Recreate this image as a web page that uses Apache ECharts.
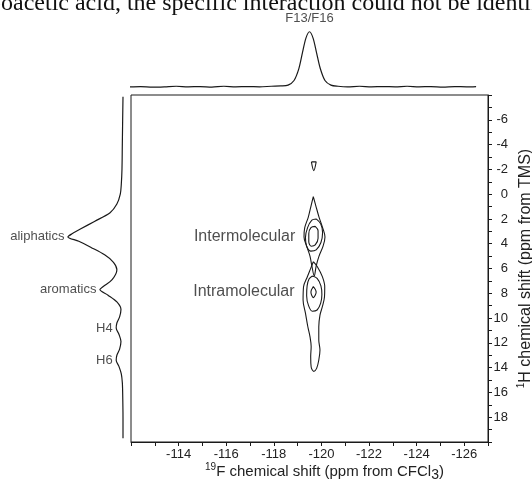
<!DOCTYPE html>
<html><head><meta charset="utf-8">
<script src="https://cdn.jsdelivr.net/npm/echarts@6/dist/echarts.min.js"></script>
<style>html,body{margin:0;padding:0;background:#fff}#c{width:532px;height:486px}</style>
</head><body><div id="c"></div>
<script>
// ---- axis ranges / tick labels ----
const fRange = [-127, -112];            // 19F ppm (shown inverted)
const hRange = [-8, 20];                // 1H ppm (shown inverted)
const fLabelTicks = [-114, -116, -118, -120, -122, -124, -126];
const hLabelTicks = [-6, -4, -2, 0, 2, 4, 6, 8, 10, 12, 14, 16, 18];

// ---- top projection (19F) ----
const fProjPpm = [-111.95,-112.4,-112.9,-113.4,-113.9,-114.4,-114.9,-115.4,-115.9,-116.4,-116.9,-117.4,-117.9,-118.3,-118.6,-118.85,-119.05,-119.2,-119.35,-119.5,-119.65,-119.8,-119.95,-120.15,-120.4,-120.7,-121.1,-121.6,-122.1,-122.6,-123.1,-123.6,-124.1,-124.6,-125.1,-125.6,-126.1,-126.5];
const fProjInt = [0.02,0.025,0.015,0.02,0.03,0.02,0.025,0.015,0.03,0.02,0.025,0.02,0.03,0.035,0.05,0.13,0.33,0.6,0.86,0.97,0.86,0.6,0.34,0.13,0.05,0.03,0.02,0.03,0.02,0.025,0.02,0.03,0.02,0.025,0.015,0.025,0.02,0.025];
const fPeakLabel = 'F13/F16';
const fPeakPpm = -119.5;
const fPeakInt = 0.97;

// ---- left projection (1H) ----
const hProjPpm = [-7.85,-6,-4,-2,-0.8,0,0.8,1.5,2.2,2.8,3.2,3.45,3.8,4.3,4.9,5.5,6.1,6.9,7.45,7.7,8.15,8.7,9.3,9.9,10.4,10.8,11.3,11.9,12.5,13.0,13.4,13.9,14.5,15.2,16,18,19.7];
const hProjInt = [0,0.005,0.01,0.015,0.025,0.04,0.09,0.19,0.42,0.62,0.75,0.81,0.65,0.47,0.27,0.14,0.09,0.16,0.29,0.34,0.22,0.09,0.03,0.05,0.09,0.1,0.06,0.03,0.05,0.09,0.1,0.06,0.025,0.01,0.005,0,0];
const hPeakNames = ['aliphatics', 'aromatics', 'H4', 'H6'];
const hPeakPpm = [3.45, 7.7, 10.8, 13.4];
const hPeakInt = [0.81, 0.34, 0.1, 0.1];

// ---- 2D contours: [19F ppm, 1H ppm] ----
const contourSmall = [[-119.58,-2.6],[-119.78,-2.6],[-119.68,-1.9],[-119.58,-2.6]];
const interOuter = [[-119.66,0.2],[-119.76,0.9],[-119.9,1.85],[-120.05,2.7],[-120.15,3.45],[-120.07,4.2],[-119.9,5.0],[-119.78,5.8],[-119.7,6.6],[-119.6,5.8],[-119.52,5.0],[-119.38,4.2],[-119.27,3.45],[-119.3,2.7],[-119.45,1.85],[-119.57,0.9],[-119.66,0.2]];
const interMiddle = [[-119.78,2.0],[-119.97,2.4],[-120.05,3.1],[-119.98,3.9],[-119.78,4.5],[-119.56,4.6],[-119.38,4.2],[-119.33,3.5],[-119.42,2.7],[-119.6,2.1],[-119.78,2.0]];
const interInner = [[-119.74,2.6],[-119.86,2.95],[-119.86,3.55],[-119.74,4.1],[-119.58,4.2],[-119.47,3.85],[-119.47,3.2],[-119.56,2.7],[-119.74,2.6]];
const intraOuter = [[-119.66,5.45],[-119.83,5.86],[-120.04,6.66],[-120.14,7.47],[-120.13,8.28],[-120.04,9.08],[-119.94,9.76],[-119.89,10.7],[-119.89,11.77],[-119.94,12.58],[-119.89,13.39],[-119.8,14.06],[-119.68,14.3],[-119.57,13.95],[-119.55,13.1],[-119.57,12.3],[-119.52,11.5],[-119.43,10.7],[-119.33,9.6],[-119.23,8.55],[-119.25,7.47],[-119.41,6.66],[-119.55,5.99],[-119.66,5.45]];
const intraMiddle = [[-119.62,6.6],[-119.82,6.8],[-119.98,7.4],[-120.02,8.1],[-119.97,8.8],[-119.82,9.35],[-119.62,9.45],[-119.46,9.0],[-119.38,8.2],[-119.4,7.4],[-119.48,6.85],[-119.62,6.6]];
const intraInner = [[-119.66,7.45],[-119.78,7.9],[-119.66,8.35],[-119.56,7.9],[-119.66,7.45]];
const regionNames = ['Intermolecular', 'Intramolecular'];
const regionAnchor = [[-119.26, 3.4], [-119.23, 7.9]];

const docLine = 'boacetic acid, the specific interaction could not be identified';

const FONT = '"Liberation Sans", Arial, sans-serif';
const ink = '#1a1a1a';
const txt = '#222';

const chart = echarts.init(document.getElementById('c'));
const zip = (a, b) => a.map((v, i) => [v, b[i]]);
const contours = [contourSmall, interOuter, interMiddle, interInner, intraOuter, intraMiddle, intraInner];

const series = [];
contours.forEach(c => series.push({
  type: 'line', xAxisIndex: 0, yAxisIndex: 0, data: c, smooth: 0.35,
  showSymbol: false, symbol: 'none', lineStyle: { color: ink, width: 1.1 }, silent: true
}));
series.push({
  type: 'line', xAxisIndex: 1, yAxisIndex: 1, data: zip(fProjPpm, fProjInt), smooth: 0.3,
  showSymbol: false, symbol: 'none', lineStyle: { color: ink, width: 1.2 }
});
series.push({
  type: 'line', xAxisIndex: 2, yAxisIndex: 2, data: zip(hProjInt, hProjPpm), smooth: 0.3,
  showSymbol: false, symbol: 'none', lineStyle: { color: ink, width: 1.2 }
});
series.push({
  type: 'scatter', xAxisIndex: 2, yAxisIndex: 2, data: zip(hPeakInt, hPeakPpm), symbolSize: 1,
  itemStyle: { color: 'rgba(0,0,0,0)' },
  label: { show: true, position: 'left', distance: 3, color: txt, fontFamily: FONT, fontSize: 13,
    formatter: p => hPeakNames[p.dataIndex] }
});
series.push({
  type: 'scatter', xAxisIndex: 0, yAxisIndex: 0, data: regionAnchor, symbolSize: 1,
  itemStyle: { color: 'rgba(0,0,0,0)' },
  label: { show: true, position: 'left', distance: 8, color: txt, fontFamily: FONT, fontSize: 16,
    formatter: p => regionNames[p.dataIndex] }
});
series.push({
  type: 'scatter', xAxisIndex: 1, yAxisIndex: 1, data: [[fPeakPpm, fPeakInt]], symbolSize: 1,
  itemStyle: { color: 'rgba(0,0,0,0)' },
  label: { show: true, position: 'top', distance: 6, color: txt, fontFamily: FONT, fontSize: 13,
    formatter: fPeakLabel }
});

const option = {
  animation: false,
  backgroundColor: '#fff',
  textStyle: { fontFamily: FONT },
  grid: [
    { left: 131, top: 95, width: 357, height: 347, show: true, borderColor: ink, borderWidth: 1, outerBoundsMode: 'none', containLabel: false },
    { left: 131, top: 30, width: 357, height: 58, outerBoundsMode: 'none', containLabel: false },
    { left: 55, top: 95, width: 68, height: 347, outerBoundsMode: 'none', containLabel: false }
  ],
  xAxis: [
    { gridIndex: 0, type: 'value', min: fRange[0], max: fRange[1], inverse: true, interval: 1,
      axisLine: { show: true, onZero: false, lineStyle: { color: ink, width: 1 } },
      axisTick: { show: true, length: 4, lineStyle: { color: ink } },
      axisLabel: { color: txt, fontSize: 13, margin: 6, fontFamily: FONT,
        formatter: v => fLabelTicks.includes(v) ? String(v) : '' },
      splitLine: { show: false },
      name: '{sup|19}F chemical shift (ppm from CFCl{sub|3})',
      nameLocation: 'middle', nameGap: 20, nameMoveOverlap: false,
      nameTextStyle: { color: txt, fontSize: 15, fontFamily: FONT, lineHeight: 20, padding: [0, 0, 0, 30],
        rich: { sup: { fontSize: 10, lineHeight: 12, verticalAlign: 'top', color: txt, fontFamily: FONT },
                sub: { fontSize: 14, lineHeight: 14, verticalAlign: 'bottom', color: txt, fontFamily: FONT } } } },
    { gridIndex: 1, type: 'value', min: fRange[0], max: fRange[1], inverse: true, show: false },
    { gridIndex: 2, type: 'value', min: 0, max: 1, inverse: true, show: false }
  ],
  yAxis: [
    { gridIndex: 0, type: 'value', position: 'right', min: hRange[0], max: hRange[1], inverse: true, interval: 1,
      axisLine: { show: true, onZero: false, lineStyle: { color: ink, width: 1 } },
      axisTick: { show: true, length: 4, lineStyle: { color: ink } },
      axisLabel: { color: txt, fontSize: 13, margin: 20, align: 'right', fontFamily: FONT,
        formatter: v => hLabelTicks.includes(v) ? String(v) : '' },
      splitLine: { show: false },
      name: '{sup|1}H chemical shift (ppm from TMS)',
      nameLocation: 'middle', nameGap: 28, nameRotate: 90, nameMoveOverlap: false,
      nameTextStyle: { color: txt, fontSize: 16, fontFamily: FONT, lineHeight: 20,
        rich: { sup: { fontSize: 10, lineHeight: 12, verticalAlign: 'top', color: txt, fontFamily: FONT } } } },
    { gridIndex: 1, type: 'value', min: 0, max: 1, show: false },
    { gridIndex: 2, type: 'value', min: hRange[0], max: hRange[1], inverse: true, show: false }
  ],
  graphic: [
    { type: 'text', left: -11, top: -8, silent: true,
      style: { text: docLine, font: '24px "Liberation Serif", serif', fill: '#111' } }
  ],
  series: series
};
chart.setOption(option);
</script></body></html>
